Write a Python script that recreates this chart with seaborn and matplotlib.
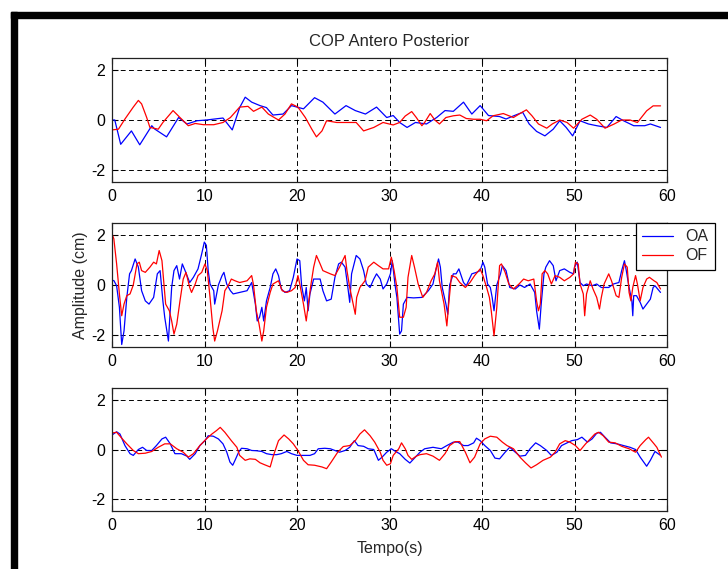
import matplotlib
matplotlib.use("Agg")
import matplotlib.pyplot as plt
import seaborn as sns
from matplotlib.patches import Rectangle
from matplotlib.lines import Line2D

# ---------------- data ----------------
title = "COP Antero Posterior"
ylabel = "Amplitude (cm)"
xlabel = "Tempo(s)"
series_labels = ["OA", "OF"]
x_ticks = [0, 10, 20, 30, 40, 50, 60]
y_ticks = [-2, 0, 2]

# top panel
t_top_oa = [0, 0.3, 0.94, 2.1, 3.0, 4.3, 4.6, 5.9, 7.2, 8.1, 9.2, 10.2, 12.0, 13.0, 13.8, 14.4, 15.1,
            16.0, 16.7, 17.4, 18.5, 19.4, 20.7, 21.9, 22.8, 24.1, 25.3, 26.3, 27.4, 28.6, 29.7, 30.4,
            31.1, 31.9, 32.8, 34.0, 35.1, 36.0, 36.9, 38.0, 38.9, 39.8, 40.7, 41.9, 42.6, 43.5, 44.4,
            45.1, 45.9, 46.8, 47.7, 48.4, 49.1, 49.8, 50.6, 51.5, 52.4, 53.5, 54.5, 55.3, 56.4, 57.6,
            58.2, 59.3]
top_oa = [0, 0, -0.98, -0.44, -1.0, -0.23, -0.36, -0.68, 0.1, -0.16, -0.03, 0.0, 0.08, -0.4, 0.5, 0.92,
          0.72, 0.58, 0.5, 0.2, 0.24, 0.58, 0.45, 0.9, 0.72, 0.24, 0.58, 0.38, 0.24, 0.52, 0.1, 0.18,
          -0.1, -0.3, -0.1, -0.16, 0.1, 0.38, 0.35, 0.72, 0.24, 0.58, 0.18, 0.14, 0.04, 0.18, 0.31,
          -0.16, -0.46, -0.64, -0.37, -0.03, -0.3, -0.64, -0.03, -0.16, -0.23, -0.3, 0.14, -0.03,
          -0.23, -0.23, -0.16, -0.3]
t_top_of = [0, 0.7, 1.4, 2.3, 2.85, 3.2, 3.75, 4.1, 5.0, 5.5, 6.6, 7.35, 8.25, 9.0, 9.9, 11.0, 12.0,
            12.8, 13.8, 14.7, 15.3, 16.2, 16.9, 18.0, 18.7, 19.4, 20.1, 20.9, 21.6, 22.1, 22.7, 23.2,
            24.3, 25.5, 26.4, 27.2, 28.3, 29.3, 30.4, 31.1, 31.7, 32.4, 32.9, 33.5, 33.8, 34.4, 34.9,
            35.4, 36.1, 36.9, 37.6, 38.3, 39.1, 39.8, 40.5, 41.2, 42.3, 43.4, 44.1, 44.8, 45.4, 46.1,
            47.0, 47.6, 48.4, 49.2, 49.9, 50.8, 51.7, 52.4, 53.3, 54.3, 55.1, 56.0, 56.8, 57.8, 58.5,
            59.3]
top_of = [-0.4, -0.37, 0.04, 0.52, 0.79, 0.65, 0.1, -0.3, -0.37, -0.1, 0.38, 0.1, -0.23, -0.14, -0.19,
          -0.19, -0.1, 0.1, 0.52, 0.55, 0.35, 0.52, 0.24, 0.0, 0.24, 0.65, 0.52, 0.1, -0.37, -0.68,
          -0.44, -0.03, -0.1, -0.1, -0.1, -0.44, -0.3, -0.1, -0.2, -0.1, 0.16, 0.34, 0.1, -0.23, -0.1,
          0.26, 0.0, -0.16, 0.1, 0.17, 0.2, 0.06, 0.03, 0.03, -0.03, 0.17, 0.26, 0.1, 0.26, 0.41, 0.17,
          -0.16, -0.33, -0.16, 0.0, -0.1, -0.33, 0.03, 0.2, 0.03, -0.33, -0.16, 0.0, 0.0, -0.1, 0.37,
          0.57, 0.57]

# middle panel
t_mid_oa = [0, 0.2, 0.5, 0.8, 1.05, 1.3, 1.6, 1.9, 2.1, 2.5,
            2.85, 3.2, 3.6, 4.0, 4.5, 4.9, 5.2, 5.5, 5.7, 6.1,
            6.25, 6.45, 6.7, 7.0, 7.3, 7.6, 7.9, 8.4, 8.8, 9.3,
            9.7, 9.98, 10.2, 10.4, 10.6, 11.0, 11.1, 11.5, 11.9, 12.1,
            12.4, 12.8, 13.1, 13.8, 14.6, 15.1, 15.5, 15.7, 15.95, 16.2,
            16.4, 16.7, 17.1, 17.4, 17.7, 18.0, 18.3, 18.7, 19.2, 19.6,
            20.0, 20.3, 20.5, 20.8, 21.0, 21.2, 21.4, 21.8, 22.5, 22.8,
            23.2, 23.7, 24.1, 24.5, 24.8, 25.2, 25.5, 25.7, 25.9, 26.4,
            26.8, 27.2, 27.5, 27.9, 28.3, 28.6, 29.0, 29.3, 29.7, 30.1,
            30.3, 30.6, 30.8, 31.1, 31.3, 31.5, 31.9, 32.6, 33.5, 34.2,
            34.7, 35.0, 35.3, 35.5, 35.7, 36.1, 36.3, 36.5, 36.9, 37.2,
            37.5, 38.0, 38.3, 38.9, 39.4, 39.8, 40.1, 40.3, 40.6, 40.9,
            41.1, 41.3, 41.6, 42.0, 42.2, 42.6, 43.0, 43.6, 44.1, 44.6,
            45.2, 45.7, 45.9, 46.2, 46.4, 46.7, 46.9, 47.3, 47.7, 48.0,
            48.4, 48.9, 49.5, 49.9, 50.0, 50.3, 50.6, 50.95, 51.3, 51.9,
            52.4, 52.9, 53.7, 54.2, 54.8, 55.1, 55.4, 55.6, 55.9, 56.2,
            56.3, 56.4, 56.7, 57.1, 57.4, 57.8, 58.2, 58.5, 58.7, 59.3]
mid_oa = [0.18, 0.18, -0.03, -0.9, -2.4, -1.85, -0.5, 0.45, 0.58, 1.05,
          0.72, -0.23, -0.64, -0.77, -0.5, 0.45, 0.58, -0.64, -1.3, -2.26,
          -1.3, -0.1, 0.58, 0.78, 0.24, 0.85, 0.58, 0.1, 0.31, 0.65,
          1.26, 1.73, 1.6, 0.58, 0.04, -0.23, -0.77, 0.0, 0.38, 0.51,
          0.04, -0.23, -0.36, -0.3, -0.23, 0.1, -0.77, -1.45, -1.3, -0.9,
          -1.45, -0.64, -0.1, 0.45, 0.65, 0.38, -0.16, -0.3, -0.23, 0.31,
          1.05, 0.98, -0.03, -0.64, -0.1, -1.04, -0.36, 0.24, 0.24, -0.23,
          -0.64, -0.57, 0.31, 0.85, 0.92, 0.72, -0.1, -0.7, 0.45, 1.19,
          1.05, 0.58, 0.04, -0.1, 0.24, 0.45, 0.24, -0.16, 0.04, 0.45,
          0.98, 0.0, -0.5, -1.98, -1.85, -0.77, -0.5, -0.52, -0.5, -0.23,
          0.04, 0.58, 1.05, 0.72, -0.1, -0.77, -1.18, 0.0, 0.45, 0.45,
          0.65, 0.1, -0.03, 0.45, 0.51, 0.58, 0.92, 0.72, 0.04, -0.1,
          -0.5, -1.04, 0.0, 0.45, 0.78, 0.58, -0.1, -0.16, 0.0, -0.1,
          0.04, -0.3, -1.04, -1.78, -0.77, 0.45, 0.72, 0.98, 0.78, 0.17,
          0.58, 0.65, 0.51, 0.45, 0.72, 0.92, 0.1, -0.03, 0.04, -0.03,
          0.04, -0.1, -0.1, 0.04, 0.1, 0.58, 0.98, 0.58, -0.1, -0.64,
          -1.24, -0.43, -0.43, -0.7, -0.97, -0.77, -0.57, -0.1, -0.03, -0.3]
t_mid_of = [0, 0.2, 0.5, 0.8, 1.05, 1.3, 1.6, 1.95, 2.3, 2.7,
            2.95, 3.2, 3.6, 4.1, 4.5, 4.8, 5.1, 5.4, 5.55, 5.8,
            6.2, 6.45, 6.7, 7.0, 7.35, 7.7, 8.0, 8.4, 8.6, 9.0,
            9.3, 9.7, 10.05, 10.3, 10.6, 10.9, 11.1, 11.4, 11.9, 12.2,
            12.6, 12.9, 13.3, 13.8, 14.6, 15.1, 15.3, 15.6, 15.9, 16.2,
            16.4, 16.7, 17.1, 17.4, 18.0, 18.4, 18.9, 19.4, 19.8, 20.1,
            20.3, 20.7, 21.0, 21.2, 21.5, 21.8, 22.1, 22.5, 22.8, 23.6,
            24.1, 24.6, 25.2, 25.4, 25.7, 26.0, 26.3, 26.45, 26.8, 27.35,
            27.7, 28.3, 28.8, 29.3, 29.9, 30.2, 30.5, 30.8, 31.1, 31.5,
            31.8, 32.0, 32.4, 32.7, 33.1, 33.6, 34.0, 34.5, 34.9, 35.2,
            35.4, 35.9, 36.2, 36.4, 36.7, 37.2, 37.6, 38.2, 38.7, 39.2,
            39.8, 40.1, 40.5, 40.8, 41.0, 41.3, 41.6, 41.9, 42.1, 42.5,
            42.9, 43.4, 44.0, 44.5, 45.0, 45.6, 45.9, 46.1, 46.3, 46.5,
            46.8, 47.1, 47.5, 47.9, 48.4, 48.9, 49.5, 49.9, 50.1, 50.4,
            50.6, 50.95, 51.1, 51.3, 51.7, 52.0, 52.4, 52.7, 52.9, 53.2,
            53.7, 54.0, 54.5, 54.8, 55.1, 55.4, 55.7, 55.9, 56.1, 56.3,
            56.6, 56.8, 57.1, 57.4, 57.8, 58.1, 58.6, 58.9, 59.3]
mid_of = [2.07, 1.86, 0.85, -0.36, -1.24, -0.77, -0.43, -0.36, 0.0, 0.85,
          0.92, 0.58, 0.51, 0.72, 0.92, 0.85, 1.39, 0.98, 0.31, -0.77,
          -1.04, -1.45, -1.98, -1.58, -0.64, 0.24, 0.51, -0.1, -0.3, 0.04,
          0.38, 0.51, 0.85, 0.58, -0.5, -1.72, -2.26, -1.85, -1.04, -0.23,
          0.0, 0.24, 0.17, 0.1, 0.17, 0.38, 0.0, -1.04, -1.58, -2.26,
          -1.85, -0.9, -0.3, 0.04, 0.17, -0.23, -0.3, -0.23, -0.1, 0.38,
          0.04, -0.77, -1.45, -0.84, 0.0, 0.72, 1.19, 0.85, 0.58, 0.45,
          0.38, 0.72, 1.19, 0.58, -0.1, -0.64, -1.18, -0.5, -0.1, 0.17,
          0.72, 0.92, 0.78, 0.65, 0.65, 1.12, 0.58, -0.1, -1.3, -1.3,
          -0.9, 0.31, 1.19, 0.72, 0.04, -0.5, -0.3, 0.17, 0.45, 0.92,
          0.17, -0.77, -1.65, -0.77, 0.38, 0.31, 0.1, -0.1, 0.1, 0.38,
          0.65, 0.38, -0.1, -0.5, -1.04, -2.05, -0.9, 0.78, 0.85, 0.51,
          0.04, -0.16, 0.04, 0.24, 0.17, 0.24, -0.64, -1.04, -0.77, 0.45,
          0.58, 0.45, 0.04, 0.38, 0.31, 0.17, 0.31, 0.45, 0.92, 0.85,
          0.04, -0.36, -1.24, -0.36, 0.17, -0.16, -0.5, -0.97, -0.5, 0.04,
          0.45, 0.17, -0.43, -0.5, 0.31, 0.85, 0.72, -0.3, -0.64, -0.1,
          0.38, 0.04, -0.64, -0.1, 0.24, 0.31, 0.17, 0.1, -0.16]

# bottom panel
t_bot_oa = [0, 0.5, 0.86, 1.4, 1.95, 2.3, 2.85, 3.3, 3.75, 4.3,
            4.8, 5.4, 5.8, 6.3, 6.8, 7.5, 8.1, 8.4, 9.0, 9.5,
            10.05, 10.4, 10.95, 11.5, 12.0, 12.4, 12.75, 13.05, 13.3, 13.7,
            14.0, 14.6, 15.1, 15.6, 16.2, 16.7, 17.3, 17.8, 18.3, 18.9,
            19.4, 20.0, 20.7, 21.4, 21.9, 22.3, 23.0, 23.6, 24.1, 24.6,
            25.2, 25.7, 26.2, 26.6, 27.2, 27.7, 28.3, 28.8, 29.2, 29.7,
            30.2, 30.8, 31.1, 31.7, 32.2, 32.8, 33.3, 33.8, 34.7, 35.6,
            36.2, 36.9, 37.4, 38.0, 38.5, 39.1, 39.4, 39.8, 40.3, 40.9,
            41.4, 41.9, 42.5, 43.0, 43.6, 44.1, 44.7, 45.2, 45.8, 46.3,
            47.0, 47.5, 48.1, 48.6, 49.2, 49.7, 50.3, 50.8, 51.4, 51.9,
            52.4, 52.8, 53.3, 53.9, 54.6, 55.3, 56.0, 56.6, 57.1, 57.8,
            58.2, 58.7, 59.3]
bot_oa = [0.59, 0.72, 0.63, 0.16, -0.17, -0.24, 0.0, 0.09, -0.04, -0.04,
          0.16, 0.43, 0.5, 0.23, -0.17, -0.17, -0.27, -0.4, -0.17, 0.16,
          0.36, 0.56, 0.54, 0.43, 0.23, -0.1, -0.51, -0.64, -0.44, -0.1,
          0.05, 0.03, -0.04, -0.05, -0.08, -0.17, -0.21, -0.21, -0.17, -0.08,
          -0.17, -0.24, -0.24, -0.24, -0.17, 0.03, 0.05, 0.03, -0.04, -0.11,
          -0.04, 0.09, 0.36, 0.16, 0.13, 0.03, 0.0, -0.44, -0.31, -0.11,
          0.03, -0.11, -0.17, -0.4, -0.55, -0.31, -0.11, 0.03, 0.09, 0.03,
          0.16, 0.3, 0.3, 0.16, 0.16, 0.27, 0.46, 0.36, 0.16, -0.04,
          -0.35, -0.38, -0.11, 0.09, -0.11, -0.27, -0.24, 0.03, 0.27, 0.16,
          -0.04, -0.24, -0.11, 0.16, 0.27, 0.36, 0.4, 0.5, 0.3, 0.43,
          0.66, 0.7, 0.5, 0.27, 0.23, 0.16, 0.09, 0.0, -0.31, -0.68,
          -0.44, -0.08, -0.24]
t_bot_of = [0, 0.5, 1.05, 1.6, 2.3, 2.85, 3.6, 4.3, 5.0, 5.7,
            6.3, 7.0, 7.7, 8.25, 8.8, 9.5, 10.2, 10.8, 11.3, 11.7,
            12.2, 12.9, 13.5, 13.8, 14.4, 14.9, 15.5, 16.0, 16.5, 17.1,
            17.4, 18.0, 18.6, 19.1, 19.6, 20.1, 20.7, 21.2, 21.9, 22.7,
            23.2, 23.7, 24.4, 25.0, 25.7, 26.3, 26.8, 27.3, 27.9, 28.4,
            29.0, 29.3, 29.7, 30.1, 30.4, 31.0, 31.3, 31.7, 32.0, 32.4,
            32.9, 33.3, 34.0, 34.7, 35.4, 36.0, 36.5, 37.1, 37.6, 38.2,
            38.7, 39.2, 39.8, 40.3, 40.9, 41.6, 42.2, 42.7, 43.4, 44.1,
            44.7, 45.3, 45.9, 46.6, 47.4, 47.9, 48.4, 49.0, 49.5, 50.1,
            50.6, 51.2, 51.7, 52.2, 52.6, 53.1, 53.7, 54.4, 55.1, 55.9,
            56.6, 57.1, 57.7, 58.0, 58.6, 58.9, 59.4]
bot_of = [0.67, 0.7, 0.46, 0.23, -0.04, -0.17, -0.15, -0.08, 0.09, 0.23,
          0.23, 0.03, -0.11, -0.31, -0.17, 0.16, 0.43, 0.63, 0.77, 0.9,
          0.7, 0.36, 0.09, -0.24, -0.44, -0.38, -0.4, -0.54, -0.62, -0.71,
          -0.31, 0.36, 0.59, 0.43, 0.23, -0.04, -0.44, -0.62, -0.64, -0.71,
          -0.78, -0.51, -0.11, 0.12, 0.16, 0.36, 0.63, 0.8, 0.56, 0.3,
          -0.11, -0.44, -0.64, -0.58, -0.24, 0.03, 0.27, 0.03, -0.24, -0.4,
          -0.27, -0.21, -0.17, -0.27, -0.44, -0.17, 0.16, 0.32, 0.32, -0.11,
          -0.54, -0.31, 0.23, 0.43, 0.54, 0.5, 0.3, 0.16, 0.03, -0.31,
          -0.54, -0.75, -0.62, -0.44, -0.31, -0.11, 0.23, 0.36, 0.3, 0.16,
          -0.04, 0.23, 0.43, 0.63, 0.7, 0.56, 0.3, 0.27, 0.13, 0.03,
          -0.11, 0.16, 0.4, 0.5, 0.23, 0.09, -0.31]

# ---------------- style ----------------
sns.set_style("white")
plt.rcParams["font.family"] = ["Liberation Sans", "DejaVu Sans"]
FS = 11.5

W, H = 728, 569
fig = plt.figure(figsize=(W / 100, H / 100), dpi=100)
fig.patch.set_facecolor("white")

left = 112 / W
width = (667 - 112) / W
rows = [(58, 182), (223, 347), (388, 511)]

panels = [
    (t_top_oa, top_oa, t_top_of, top_of),
    (t_mid_oa, mid_oa, t_mid_of, mid_of),
    (t_bot_oa, bot_oa, t_bot_of, bot_of),
]

axes = []
for (top_px, bot_px), (ta, ya, tf, yf) in zip(rows, panels):
    ax = fig.add_axes([left, 1 - bot_px / H, width, (bot_px - top_px) / H])
    na = min(len(ta), len(ya))
    nf = min(len(tf), len(yf))
    sns.lineplot(x=ta[:na], y=ya[:na], ax=ax, color="#0000ff", linewidth=0.9,
                 estimator=None, sort=False)
    sns.lineplot(x=tf[:nf], y=yf[:nf], ax=ax, color="#ff0000", linewidth=0.9,
                 estimator=None, sort=False)
    ax.set_xlim(0, 60)
    ax.set_ylim(-2.5, 2.5)
    ax.set_xticks(x_ticks)
    ax.set_yticks(y_ticks)
    ax.set_xticklabels([str(v) for v in x_ticks], fontsize=FS)
    ax.set_yticklabels([str(v) for v in y_ticks], fontsize=FS)
    ax.grid(True, color="black", linestyle=(0, (5, 3.5)), linewidth=0.7)
    ax.tick_params(direction="in", length=4, width=0.8, top=True, right=True,
                   bottom=True, left=True, pad=5, colors="black")
    for s in ax.spines.values():
        s.set_color("#222222")
        s.set_linewidth(0.9)
        s.set_visible(True)
    ax.set_facecolor("white")
    axes.append(ax)

axes[0].set_title(title, fontsize=12, pad=9)
axes[1].set_ylabel(ylabel, fontsize=FS)
axes[1].yaxis.set_label_coords(-0.043, 0.5)
axes[2].set_xlabel(xlabel, fontsize=FS)
axes[2].xaxis.set_label_coords(0.5, -0.24)

handles = [Line2D([], [], color="#0000ff", lw=0.9), Line2D([], [], color="#ff0000", lw=0.9)]
leg = axes[1].legend(handles, series_labels, loc="upper left",
                     bbox_to_anchor=(636 / W, 1 - 223 / H), bbox_transform=fig.transFigure,
                     fontsize=FS, frameon=True, fancybox=False, framealpha=1,
                     edgecolor="black", handlelength=1.9, handletextpad=0.8,
                     borderpad=0.4, labelspacing=0.25, borderaxespad=0)
leg.get_frame().set_linewidth(0.9)

# black figure border (top and left)
fig.patches.append(Rectangle((11 / W, 1 - 18 / H), (W - 11) / W, 6 / H,
                             transform=fig.transFigure, color="black", zorder=10))
fig.patches.append(Rectangle((11 / W, 0), 6 / W, (H - 12) / H,
                             transform=fig.transFigure, color="black", zorder=10))

fig.savefig("out.png", dpi=100)
